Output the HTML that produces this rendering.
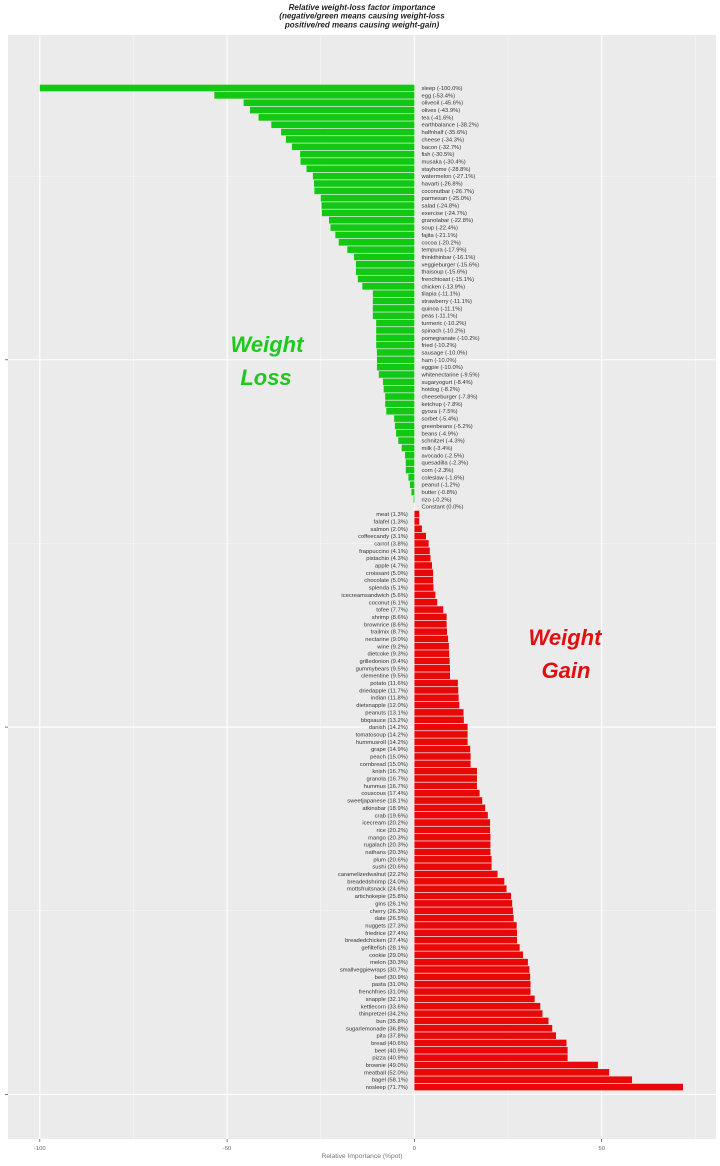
<!DOCTYPE html>
<html><head><meta charset="utf-8"><style>html,body{margin:0;padding:0;background:#fff}svg{display:block}</style></head>
<body>
<svg width="720" height="1166" viewBox="0 0 720 1166" xmlns="http://www.w3.org/2000/svg" font-family="'Liberation Sans', sans-serif">
<rect width="720" height="1166" fill="#fff"/>
<rect x="8" y="35" width="708" height="1104" fill="#ebebeb"/>
<g stroke="#f7f7f7" stroke-width="0.6">
<line x1="133.45" y1="35" x2="133.45" y2="1139"/><line x1="320.75" y1="35" x2="320.75" y2="1139"/>
<line x1="508.05" y1="35" x2="508.05" y2="1139"/><line x1="695.35" y1="35" x2="695.35" y2="1139"/>
<line x1="8" y1="910.75" x2="716" y2="910.75"/><line x1="8" y1="543.45" x2="716" y2="543.45"/><line x1="8" y1="176.15" x2="716" y2="176.15"/>
</g>
<g stroke="#fff" stroke-width="1.1">
<line x1="39.8" y1="35" x2="39.8" y2="1139"/><line x1="227.1" y1="35" x2="227.1" y2="1139"/>
<line x1="414.4" y1="35" x2="414.4" y2="1139"/><line x1="601.7" y1="35" x2="601.7" y2="1139"/>
<line x1="8" y1="1094.4" x2="716" y2="1094.4"/><line x1="8" y1="727.1" x2="716" y2="727.1"/><line x1="8" y1="359.8" x2="716" y2="359.8"/>
</g>
<g transform="matrix(3.746 0 0 -7.346 414.4 1094.4)">
<g fill="#12c812">
<rect x="-100" y="136.55" width="100" height="0.9"/>
<rect x="-53.4" y="135.55" width="53.4" height="0.9"/>
<rect x="-45.6" y="134.55" width="45.6" height="0.9"/>
<rect x="-43.9" y="133.55" width="43.9" height="0.9"/>
<rect x="-41.6" y="132.55" width="41.6" height="0.9"/>
<rect x="-38.2" y="131.55" width="38.2" height="0.9"/>
<rect x="-35.6" y="130.55" width="35.6" height="0.9"/>
<rect x="-34.3" y="129.55" width="34.3" height="0.9"/>
<rect x="-32.7" y="128.55" width="32.7" height="0.9"/>
<rect x="-30.5" y="127.55" width="30.5" height="0.9"/>
<rect x="-30.4" y="126.55" width="30.4" height="0.9"/>
<rect x="-28.8" y="125.55" width="28.8" height="0.9"/>
<rect x="-27.1" y="124.55" width="27.1" height="0.9"/>
<rect x="-26.8" y="123.55" width="26.8" height="0.9"/>
<rect x="-26.7" y="122.55" width="26.7" height="0.9"/>
<rect x="-25.0" y="121.55" width="25.0" height="0.9"/>
<rect x="-24.8" y="120.55" width="24.8" height="0.9"/>
<rect x="-24.7" y="119.55" width="24.7" height="0.9"/>
<rect x="-22.8" y="118.55" width="22.8" height="0.9"/>
<rect x="-22.4" y="117.55" width="22.4" height="0.9"/>
<rect x="-21.1" y="116.55" width="21.1" height="0.9"/>
<rect x="-20.2" y="115.55" width="20.2" height="0.9"/>
<rect x="-17.9" y="114.55" width="17.9" height="0.9"/>
<rect x="-16.1" y="113.55" width="16.1" height="0.9"/>
<rect x="-15.6" y="112.55" width="15.6" height="0.9"/>
<rect x="-15.6" y="111.55" width="15.6" height="0.9"/>
<rect x="-15.1" y="110.55" width="15.1" height="0.9"/>
<rect x="-13.9" y="109.55" width="13.9" height="0.9"/>
<rect x="-11.1" y="108.55" width="11.1" height="0.9"/>
<rect x="-11.1" y="107.55" width="11.1" height="0.9"/>
<rect x="-11.1" y="106.55" width="11.1" height="0.9"/>
<rect x="-11.1" y="105.55" width="11.1" height="0.9"/>
<rect x="-10.2" y="104.55" width="10.2" height="0.9"/>
<rect x="-10.2" y="103.55" width="10.2" height="0.9"/>
<rect x="-10.2" y="102.55" width="10.2" height="0.9"/>
<rect x="-10.2" y="101.55" width="10.2" height="0.9"/>
<rect x="-10.0" y="100.55" width="10.0" height="0.9"/>
<rect x="-10.0" y="99.55" width="10.0" height="0.9"/>
<rect x="-10.0" y="98.55" width="10.0" height="0.9"/>
<rect x="-9.5" y="97.55" width="9.5" height="0.9"/>
<rect x="-8.4" y="96.55" width="8.4" height="0.9"/>
<rect x="-8.2" y="95.55" width="8.2" height="0.9"/>
<rect x="-7.8" y="94.55" width="7.8" height="0.9"/>
<rect x="-7.8" y="93.55" width="7.8" height="0.9"/>
<rect x="-7.5" y="92.55" width="7.5" height="0.9"/>
<rect x="-5.4" y="91.55" width="5.4" height="0.9"/>
<rect x="-5.2" y="90.55" width="5.2" height="0.9"/>
<rect x="-4.9" y="89.55" width="4.9" height="0.9"/>
<rect x="-4.3" y="88.55" width="4.3" height="0.9"/>
<rect x="-3.4" y="87.55" width="3.4" height="0.9"/>
<rect x="-2.5" y="86.55" width="2.5" height="0.9"/>
<rect x="-2.3" y="85.55" width="2.3" height="0.9"/>
<rect x="-2.3" y="84.55" width="2.3" height="0.9"/>
<rect x="-1.6" y="83.55" width="1.6" height="0.9"/>
<rect x="-1.2" y="82.55" width="1.2" height="0.9"/>
<rect x="-0.8" y="81.55" width="0.8" height="0.9"/>
<rect x="-0.2" y="80.55" width="0.2" height="0.9"/>
</g>
<g fill="#e80808">
<rect x="0" y="78.55" width="1.3" height="0.9"/>
<rect x="0" y="77.55" width="1.3" height="0.9"/>
<rect x="0" y="76.55" width="2.0" height="0.9"/>
<rect x="0" y="75.55" width="3.1" height="0.9"/>
<rect x="0" y="74.55" width="3.8" height="0.9"/>
<rect x="0" y="73.55" width="4.1" height="0.9"/>
<rect x="0" y="72.55" width="4.3" height="0.9"/>
<rect x="0" y="71.55" width="4.7" height="0.9"/>
<rect x="0" y="70.55" width="5.0" height="0.9"/>
<rect x="0" y="69.55" width="5.0" height="0.9"/>
<rect x="0" y="68.55" width="5.1" height="0.9"/>
<rect x="0" y="67.55" width="5.6" height="0.9"/>
<rect x="0" y="66.55" width="6.1" height="0.9"/>
<rect x="0" y="65.55" width="7.7" height="0.9"/>
<rect x="0" y="64.55" width="8.6" height="0.9"/>
<rect x="0" y="63.55" width="8.6" height="0.9"/>
<rect x="0" y="62.55" width="8.7" height="0.9"/>
<rect x="0" y="61.55" width="9.0" height="0.9"/>
<rect x="0" y="60.55" width="9.2" height="0.9"/>
<rect x="0" y="59.55" width="9.3" height="0.9"/>
<rect x="0" y="58.55" width="9.4" height="0.9"/>
<rect x="0" y="57.55" width="9.5" height="0.9"/>
<rect x="0" y="56.55" width="9.5" height="0.9"/>
<rect x="0" y="55.55" width="11.6" height="0.9"/>
<rect x="0" y="54.55" width="11.7" height="0.9"/>
<rect x="0" y="53.55" width="11.8" height="0.9"/>
<rect x="0" y="52.55" width="12.0" height="0.9"/>
<rect x="0" y="51.55" width="13.1" height="0.9"/>
<rect x="0" y="50.55" width="13.2" height="0.9"/>
<rect x="0" y="49.55" width="14.2" height="0.9"/>
<rect x="0" y="48.55" width="14.2" height="0.9"/>
<rect x="0" y="47.55" width="14.2" height="0.9"/>
<rect x="0" y="46.55" width="14.9" height="0.9"/>
<rect x="0" y="45.55" width="15.0" height="0.9"/>
<rect x="0" y="44.55" width="15.0" height="0.9"/>
<rect x="0" y="43.55" width="16.7" height="0.9"/>
<rect x="0" y="42.55" width="16.7" height="0.9"/>
<rect x="0" y="41.55" width="16.7" height="0.9"/>
<rect x="0" y="40.55" width="17.4" height="0.9"/>
<rect x="0" y="39.55" width="18.1" height="0.9"/>
<rect x="0" y="38.55" width="18.9" height="0.9"/>
<rect x="0" y="37.55" width="19.6" height="0.9"/>
<rect x="0" y="36.55" width="20.2" height="0.9"/>
<rect x="0" y="35.55" width="20.2" height="0.9"/>
<rect x="0" y="34.55" width="20.3" height="0.9"/>
<rect x="0" y="33.55" width="20.3" height="0.9"/>
<rect x="0" y="32.55" width="20.3" height="0.9"/>
<rect x="0" y="31.55" width="20.6" height="0.9"/>
<rect x="0" y="30.55" width="20.6" height="0.9"/>
<rect x="0" y="29.55" width="22.2" height="0.9"/>
<rect x="0" y="28.55" width="24.0" height="0.9"/>
<rect x="0" y="27.55" width="24.6" height="0.9"/>
<rect x="0" y="26.55" width="25.8" height="0.9"/>
<rect x="0" y="25.55" width="26.1" height="0.9"/>
<rect x="0" y="24.55" width="26.3" height="0.9"/>
<rect x="0" y="23.55" width="26.5" height="0.9"/>
<rect x="0" y="22.55" width="27.3" height="0.9"/>
<rect x="0" y="21.55" width="27.4" height="0.9"/>
<rect x="0" y="20.55" width="27.4" height="0.9"/>
<rect x="0" y="19.55" width="28.1" height="0.9"/>
<rect x="0" y="18.55" width="29.0" height="0.9"/>
<rect x="0" y="17.55" width="30.3" height="0.9"/>
<rect x="0" y="16.55" width="30.7" height="0.9"/>
<rect x="0" y="15.55" width="30.9" height="0.9"/>
<rect x="0" y="14.55" width="31.0" height="0.9"/>
<rect x="0" y="13.55" width="31.0" height="0.9"/>
<rect x="0" y="12.55" width="32.1" height="0.9"/>
<rect x="0" y="11.55" width="33.6" height="0.9"/>
<rect x="0" y="10.55" width="34.2" height="0.9"/>
<rect x="0" y="9.55" width="35.8" height="0.9"/>
<rect x="0" y="8.55" width="36.8" height="0.9"/>
<rect x="0" y="7.55" width="37.8" height="0.9"/>
<rect x="0" y="6.55" width="40.6" height="0.9"/>
<rect x="0" y="5.55" width="40.9" height="0.9"/>
<rect x="0" y="4.55" width="40.9" height="0.9"/>
<rect x="0" y="3.55" width="49.0" height="0.9"/>
<rect x="0" y="2.55" width="52.0" height="0.9"/>
<rect x="0" y="1.55" width="58.1" height="0.9"/>
<rect x="0" y="0.55" width="71.7" height="0.9"/>
</g>
</g>
<text font-size="5.8" fill="#333"><tspan x="421.5" y="90.0">sleep (-100.0%)</tspan><tspan x="421.5" dy="7.346">egg (-53.4%)</tspan><tspan x="421.5" dy="7.346">oliveoil (-45.6%)</tspan><tspan x="421.5" dy="7.346">olives (-43.9%)</tspan><tspan x="421.5" dy="7.346">tea (-41.6%)</tspan><tspan x="421.5" dy="7.346">earthbalance (-38.2%)</tspan><tspan x="421.5" dy="7.346">halfnhalf (-35.6%)</tspan><tspan x="421.5" dy="7.346">cheese (-34.3%)</tspan><tspan x="421.5" dy="7.346">bacon (-32.7%)</tspan><tspan x="421.5" dy="7.346">fish (-30.5%)</tspan><tspan x="421.5" dy="7.346">musaka (-30.4%)</tspan><tspan x="421.5" dy="7.346">stayhome (-28.8%)</tspan><tspan x="421.5" dy="7.346">watermelon (-27.1%)</tspan><tspan x="421.5" dy="7.346">havarti (-26.8%)</tspan><tspan x="421.5" dy="7.346">coconutbar (-26.7%)</tspan><tspan x="421.5" dy="7.346">parmesan (-25.0%)</tspan><tspan x="421.5" dy="7.346">salad (-24.8%)</tspan><tspan x="421.5" dy="7.346">exercise (-24.7%)</tspan><tspan x="421.5" dy="7.346">granolabar (-22.8%)</tspan><tspan x="421.5" dy="7.346">soup (-22.4%)</tspan><tspan x="421.5" dy="7.346">fajita (-21.1%)</tspan><tspan x="421.5" dy="7.346">cocoa (-20.2%)</tspan><tspan x="421.5" dy="7.346">tempura (-17.9%)</tspan><tspan x="421.5" dy="7.346">thinkthinbar (-16.1%)</tspan><tspan x="421.5" dy="7.346">veggieburger (-15.6%)</tspan><tspan x="421.5" dy="7.346">thaisoup (-15.6%)</tspan><tspan x="421.5" dy="7.346">frenchtoast (-15.1%)</tspan><tspan x="421.5" dy="7.346">chicken (-13.9%)</tspan><tspan x="421.5" dy="7.346">tilapia (-11.1%)</tspan><tspan x="421.5" dy="7.346">strawberry (-11.1%)</tspan><tspan x="421.5" dy="7.346">quinoa (-11.1%)</tspan><tspan x="421.5" dy="7.346">peas (-11.1%)</tspan><tspan x="421.5" dy="7.346">turmeric (-10.2%)</tspan><tspan x="421.5" dy="7.346">spinach (-10.2%)</tspan><tspan x="421.5" dy="7.346">pomegranate (-10.2%)</tspan><tspan x="421.5" dy="7.346">fried (-10.2%)</tspan><tspan x="421.5" dy="7.346">sausage (-10.0%)</tspan><tspan x="421.5" dy="7.346">ham (-10.0%)</tspan><tspan x="421.5" dy="7.346">eggpie (-10.0%)</tspan><tspan x="421.5" dy="7.346">whitenectarine (-9.5%)</tspan><tspan x="421.5" dy="7.346">sugaryogurt (-8.4%)</tspan><tspan x="421.5" dy="7.346">hotdog (-8.2%)</tspan><tspan x="421.5" dy="7.346">cheeseburger (-7.8%)</tspan><tspan x="421.5" dy="7.346">ketchup (-7.8%)</tspan><tspan x="421.5" dy="7.346">gyoza (-7.5%)</tspan><tspan x="421.5" dy="7.346">sorbet (-5.4%)</tspan><tspan x="421.5" dy="7.346">greenbeans (-5.2%)</tspan><tspan x="421.5" dy="7.346">beans (-4.9%)</tspan><tspan x="421.5" dy="7.346">schnitzel (-4.3%)</tspan><tspan x="421.5" dy="7.346">milk (-3.4%)</tspan><tspan x="421.5" dy="7.346">avocado (-2.5%)</tspan><tspan x="421.5" dy="7.346">quesadilla (-2.3%)</tspan><tspan x="421.5" dy="7.346">corn (-2.3%)</tspan><tspan x="421.5" dy="7.346">coleslaw (-1.6%)</tspan><tspan x="421.5" dy="7.346">peanut (-1.2%)</tspan><tspan x="421.5" dy="7.346">butter (-0.8%)</tspan><tspan x="421.5" dy="7.346">rizo (-0.2%)</tspan><tspan x="421.5" dy="7.346">Constant (0.0%)</tspan></text>
<text font-size="5.8" fill="#333" text-anchor="end"><tspan x="407.8" y="516.1">meat (1.3%)</tspan><tspan x="407.8" dy="7.346">falafel (1.3%)</tspan><tspan x="407.8" dy="7.346">salmon (2.0%)</tspan><tspan x="407.8" dy="7.346">coffeecandy (3.1%)</tspan><tspan x="407.8" dy="7.346">carrot (3.8%)</tspan><tspan x="407.8" dy="7.346">frappuccino (4.1%)</tspan><tspan x="407.8" dy="7.346">pistachio (4.3%)</tspan><tspan x="407.8" dy="7.346">apple (4.7%)</tspan><tspan x="407.8" dy="7.346">croissant (5.0%)</tspan><tspan x="407.8" dy="7.346">chocolate (5.0%)</tspan><tspan x="407.8" dy="7.346">splenda (5.1%)</tspan><tspan x="407.8" dy="7.346">icecreamsandwich (5.6%)</tspan><tspan x="407.8" dy="7.346">coconut (6.1%)</tspan><tspan x="407.8" dy="7.346">tofee (7.7%)</tspan><tspan x="407.8" dy="7.346">shrimp (8.6%)</tspan><tspan x="407.8" dy="7.346">brownrice (8.6%)</tspan><tspan x="407.8" dy="7.346">trailmix (8.7%)</tspan><tspan x="407.8" dy="7.346">nectarine (9.0%)</tspan><tspan x="407.8" dy="7.346">wine (9.2%)</tspan><tspan x="407.8" dy="7.346">dietcoke (9.3%)</tspan><tspan x="407.8" dy="7.346">grilledonion (9.4%)</tspan><tspan x="407.8" dy="7.346">gummybears (9.5%)</tspan><tspan x="407.8" dy="7.346">clementine (9.5%)</tspan><tspan x="407.8" dy="7.346">potato (11.6%)</tspan><tspan x="407.8" dy="7.346">driedapple (11.7%)</tspan><tspan x="407.8" dy="7.346">indian (11.8%)</tspan><tspan x="407.8" dy="7.346">dietsnapple (12.0%)</tspan><tspan x="407.8" dy="7.346">peanuts (13.1%)</tspan><tspan x="407.8" dy="7.346">bbqsauce (13.2%)</tspan><tspan x="407.8" dy="7.346">danish (14.2%)</tspan><tspan x="407.8" dy="7.346">tomatosoup (14.2%)</tspan><tspan x="407.8" dy="7.346">hummusroll (14.2%)</tspan><tspan x="407.8" dy="7.346">grape (14.9%)</tspan><tspan x="407.8" dy="7.346">peach (15.0%)</tspan><tspan x="407.8" dy="7.346">cornbread (15.0%)</tspan><tspan x="407.8" dy="7.346">knish (16.7%)</tspan><tspan x="407.8" dy="7.346">granola (16.7%)</tspan><tspan x="407.8" dy="7.346">hummus (16.7%)</tspan><tspan x="407.8" dy="7.346">couscous (17.4%)</tspan><tspan x="407.8" dy="7.346">sweetjapanese (18.1%)</tspan><tspan x="407.8" dy="7.346">atkinsbar (18.9%)</tspan><tspan x="407.8" dy="7.346">crab (19.6%)</tspan><tspan x="407.8" dy="7.346">icecream (20.2%)</tspan><tspan x="407.8" dy="7.346">rice (20.2%)</tspan><tspan x="407.8" dy="7.346">mango (20.3%)</tspan><tspan x="407.8" dy="7.346">rugalach (20.3%)</tspan><tspan x="407.8" dy="7.346">nathans (20.3%)</tspan><tspan x="407.8" dy="7.346">plum (20.6%)</tspan><tspan x="407.8" dy="7.346">sushi (20.6%)</tspan><tspan x="407.8" dy="7.346">caramelizedwalnut (22.2%)</tspan><tspan x="407.8" dy="7.346">breadedshrimp (24.0%)</tspan><tspan x="407.8" dy="7.346">mottsfruitsnack (24.6%)</tspan><tspan x="407.8" dy="7.346">artichokepie (25.8%)</tspan><tspan x="407.8" dy="7.346">gins (26.1%)</tspan><tspan x="407.8" dy="7.346">cherry (26.3%)</tspan><tspan x="407.8" dy="7.346">date (26.5%)</tspan><tspan x="407.8" dy="7.346">nuggets (27.3%)</tspan><tspan x="407.8" dy="7.346">friedrice (27.4%)</tspan><tspan x="407.8" dy="7.346">breadedchicken (27.4%)</tspan><tspan x="407.8" dy="7.346">gefiltefish (28.1%)</tspan><tspan x="407.8" dy="7.346">cookie (29.0%)</tspan><tspan x="407.8" dy="7.346">melon (30.3%)</tspan><tspan x="407.8" dy="7.346">smallveggiewraps (30.7%)</tspan><tspan x="407.8" dy="7.346">beef (30.9%)</tspan><tspan x="407.8" dy="7.346">pasta (31.0%)</tspan><tspan x="407.8" dy="7.346">frenchfries (31.0%)</tspan><tspan x="407.8" dy="7.346">snapple (32.1%)</tspan><tspan x="407.8" dy="7.346">kettlecorn (33.6%)</tspan><tspan x="407.8" dy="7.346">thinpretzel (34.2%)</tspan><tspan x="407.8" dy="7.346">bun (35.8%)</tspan><tspan x="407.8" dy="7.346">sugarlemonade (36.8%)</tspan><tspan x="407.8" dy="7.346">pita (37.8%)</tspan><tspan x="407.8" dy="7.346">bread (40.6%)</tspan><tspan x="407.8" dy="7.346">beet (40.9%)</tspan><tspan x="407.8" dy="7.346">pizza (40.9%)</tspan><tspan x="407.8" dy="7.346">brownie (49.0%)</tspan><tspan x="407.8" dy="7.346">meatball (52.0%)</tspan><tspan x="407.8" dy="7.346">bagel (58.1%)</tspan><tspan x="407.8" dy="7.346">nosleep (71.7%)</tspan></text>
<g font-size="22" font-weight="bold" font-style="italic" text-anchor="middle">
<text x="267" y="352" fill="#1ec81e">Weight</text>
<text x="266" y="385" fill="#1ec81e">Loss</text>
<text x="565" y="645" fill="#e01010">Weight</text>
<text x="566" y="678" fill="#e01010">Gain</text>
</g>
<g font-size="8" font-weight="bold" font-style="italic" text-anchor="middle" fill="#222">
<text x="362" y="9.8">Relative weight-loss factor importance</text>
<text x="362" y="18.6">(negative/green means causing weight-loss</text>
<text x="362" y="27.4">positive/red means causing weight-gain)</text>
</g>
<g stroke="#444" stroke-width="0.7">
<line x1="39.8" y1="1139" x2="39.8" y2="1142"/><line x1="227.1" y1="1139" x2="227.1" y2="1142"/>
<line x1="414.4" y1="1139" x2="414.4" y2="1142"/><line x1="601.7" y1="1139" x2="601.7" y2="1142"/>
<line x1="5" y1="1094.4" x2="8" y2="1094.4"/><line x1="5" y1="727.1" x2="8" y2="727.1"/><line x1="5" y1="359.8" x2="8" y2="359.8"/>
</g>
<g font-size="5.8" fill="#666" text-anchor="middle">
<text x="39.8" y="1150">-100</text>
<text x="227.1" y="1150">-50</text>
<text x="414.4" y="1150">0</text>
<text x="601.7" y="1150">50</text>
</g>
<text x="362" y="1158" font-size="6.7" fill="#777" text-anchor="middle">Relative Importance (%pot)</text>
</svg>
</body></html>
